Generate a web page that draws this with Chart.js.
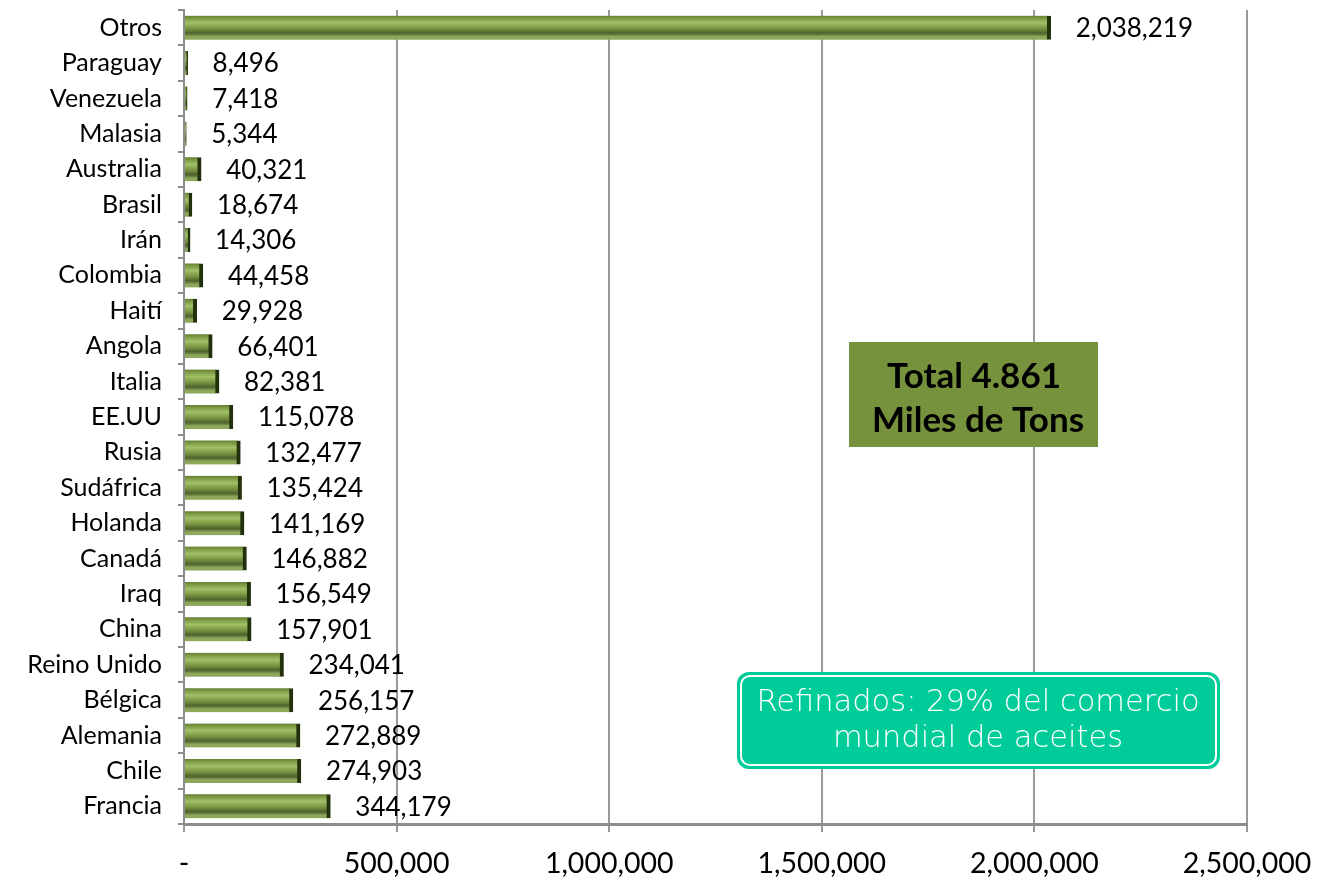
<!DOCTYPE html>
<html><head><meta charset="utf-8">
<script src="https://cdn.jsdelivr.net/npm/chart.js@4/dist/chart.umd.min.js"></script>
<style>html,body{margin:0;padding:0;background:#fff;}canvas{display:block;}</style>
</head><body>
<canvas id="c" width="1317" height="882"></canvas>
<script>
const categories = ["Otros","Paraguay","Venezuela","Malasia","Australia","Brasil","Irán","Colombia","Haití","Angola","Italia","EE.UU","Rusia","Sudáfrica","Holanda","Canadá","Iraq","China","Reino Unido","Bélgica","Alemania","Chile","Francia"];
const values = [2038219,8496,7418,5344,40321,18674,14306,44458,29928,66401,82381,115078,132477,135424,141169,146882,156549,157901,234041,256157,272889,274903,344179];
const xTicks = [0,500000,1000000,1500000,2000000,2500000];
const totalLines = ["Total 4.861", "Miles de Tons"];
const noteLines = ["Refinados: 29% del comercio", "mundial de aceites"];

const FONT = "Lato, 'Open Sans', sans-serif";
const fmt = v => v.toLocaleString('en-US');

function barFill(ctx){
  const chart = ctx.chart;
  if(!chart.chartArea) return '#7a9640';
  const y = chart.scales.y.getPixelForValue(ctx.dataIndex);
  const g = chart.ctx.createLinearGradient(0, y-12, 0, y+12);
  g.addColorStop(0, '#647f32');
  g.addColorStop(0.12, '#7f9c46');
  g.addColorStop(0.3, '#a2c068');
  g.addColorStop(0.45, '#88a44e');
  g.addColorStop(0.6, '#6c863a');
  g.addColorStop(0.72, '#4f622e');
  g.addColorStop(0.8, '#6a8040');
  g.addColorStop(0.86, '#8ca75a');
  g.addColorStop(1, '#8ea95c');
  return g;
}

const labelPlugin = {
  id: 'vals',
  afterDatasetsDraw(chart){
    const c = chart.ctx;
    const meta = chart.getDatasetMeta(0);
    c.save();
    c.font = "26px " + FONT;
    c.fillStyle = '#000';
    c.textAlign = 'left';
    c.textBaseline = 'middle';
    meta.data.forEach((el, i) => {
      c.fillText(fmt(values[i]), el.x + 25, el.y + 1);
    });
    c.restore();
  }
};

const boxPlugin = {
  id: 'boxes',
  afterDraw(chart){
    const c = chart.ctx;
    c.save();
    // Total box
    c.fillStyle = '#76923c';
    c.fillRect(849, 342, 249, 105);
    c.fillStyle = '#000';
    c.font = "bold 35px " + FONT;
    c.textAlign = 'center';
    c.textBaseline = 'middle';
    c.fillText(totalLines[0], 974, 377);
    c.fillText(totalLines[1], 978, 421);
    // Refinados box
    c.fillStyle = '#00cc99';
    c.beginPath();
    c.roundRect(737, 672, 483, 97, 12);
    c.fill();
    c.strokeStyle = '#ffffff';
    c.lineWidth = 2;
    c.beginPath();
    c.roundRect(741, 676, 475, 89, 9);
    c.stroke();
    c.fillStyle = '#ffffff';
    c.font = "200 30.5px 'DejaVu Sans', sans-serif";
    c.fillText(noteLines[0], 978, 703);
    c.fillText(noteLines[1], 978, 739);
    c.restore();
  }
};

new Chart(document.getElementById('c'), {
  type: 'bar',
  data: {
    labels: categories,
    datasets: [{
      data: values,
      backgroundColor: barFill,
      borderColor: '#22300c',
      borderWidth: {left:0, top:0, bottom:0, right:4},
      borderSkipped: false,
      barThickness: 24
    }]
  },
  options: {
    indexAxis: 'y',
    responsive: false,
    animation: false,
    devicePixelRatio: 1,
    layout: {padding: {top: 10, right: 70, left: 0, bottom: 0}},
    plugins: {legend: {display: false}, tooltip: {enabled: false}},
    scales: {
      x: {
        min: 0, max: 2500000,
        afterBuildTicks: s => { s.ticks = xTicks.map(v => ({value: v})); },
        afterFit: s => { s.height = 58; s.paddingLeft = 0; s.paddingRight = 0; },
        grid: {color: '#9a9a9a', lineWidth: 2, tickLength: 8, drawTicks: true},
        border: {color: '#8c8c8c', width: 3},
        ticks: {
          callback: v => v === 0 ? '-' : fmt(v),
          color: '#000', font: {family: FONT, size: 28.5}, padding: 15, maxRotation: 0
        }
      },
      y: {
        afterFit: s => { s.width = 184; s.paddingTop = 0; s.paddingBottom = 0; },
        grid: {offset: true, drawOnChartArea: false, color: '#8c8c8c', lineWidth: 2, tickLength: 6},
        border: {color: '#8c8c8c', width: 2},
        ticks: {color: '#000', font: {family: FONT, size: 25}, padding: 16, autoSkip: false}
      }
    }
  },
  plugins: [labelPlugin, boxPlugin]
});
</script>
</body></html>
